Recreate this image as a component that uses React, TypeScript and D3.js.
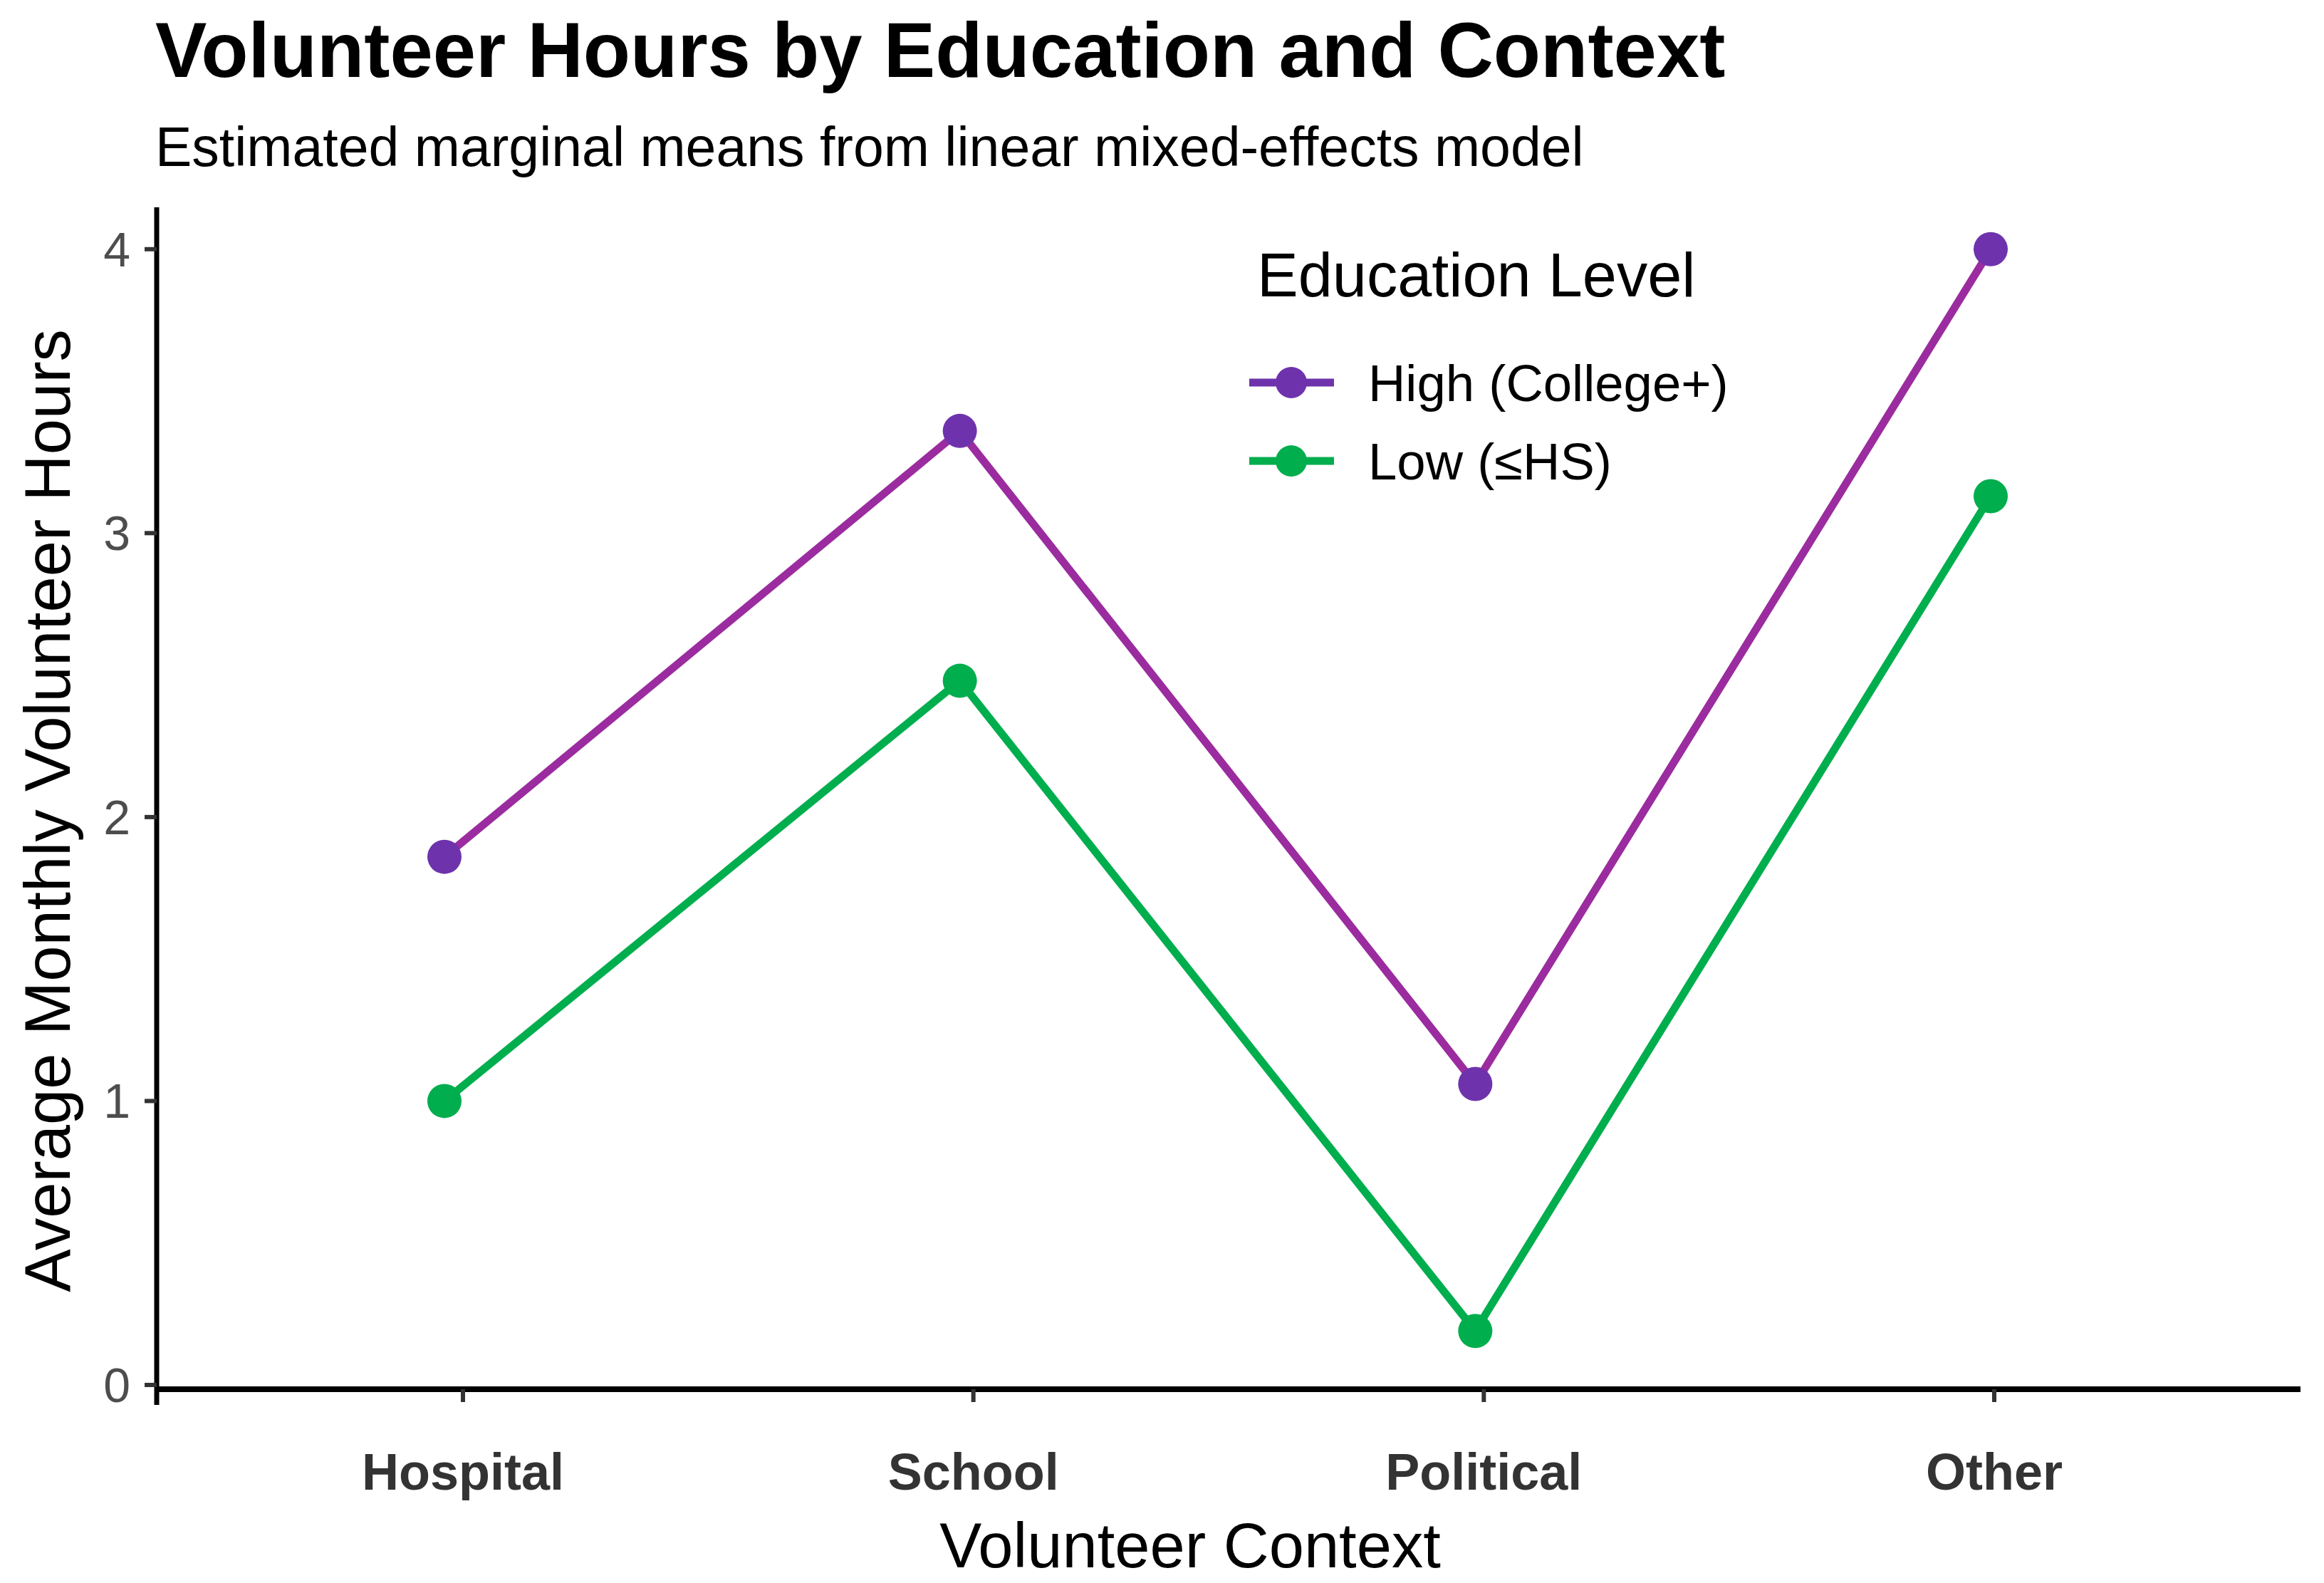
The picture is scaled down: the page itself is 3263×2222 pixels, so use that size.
import { line, scaleLinear, scalePoint } from "d3";
import type { FC } from "react";

// Data
const contexts = ["Hospital", "School", "Political", "Other"];
const highValues = [1.86, 3.36, 1.06, 4.0];
const lowValues = [1.0, 2.48, 0.19, 3.13];
const yTicks = [0, 1, 2, 3, 4];
const seriesNames = ["High (College+)", "Low (\u2264HS)"];

const W = 3263;
const H = 2222;
const font = "'Liberation Sans', Arial, Helvetica, sans-serif";

const App: FC = () => {
  const panel = { left: 220, right: 3230, top: 290, bottom: 1944 };
  const axisY = 1950;

  // Scales: axis ticks, and the marks (drawn a touch left of the ticks in the original)
  const xScale = scalePoint<string>()
    .domain(contexts)
    .range([panel.left, panel.right])
    .padding(0.6);
  const xMark = scalePoint<string>().domain(contexts).range([624, 2795]);
  const yScale = scaleLinear().domain([0, 4.15]).range([panel.bottom, panel.top]);

  const series = [
    { name: seriesNames[0], values: highValues, line: "#9B2C9F", point: "#6E33AC" },
    { name: seriesNames[1], values: lowValues, line: "#00AE4E", point: "#00AE4E" },
  ];

  const path = line<number>()
    .x((_, i) => xMark(contexts[i]) ?? 0)
    .y((d) => yScale(d));

  return (
    <div style={{ position: "absolute", left: 0, top: 0 }}>
      <svg width={W} height={H} fontFamily={font} style={{ display: "block", background: "#fff" }}>
        {/* titles */}
        <text x={218} y={108} fontSize={108.5} fontWeight="bold" fill="#000">
          Volunteer Hours by Education and Context
        </text>
        <text x={218} y={233} fontSize={77} fill="#000">
          Estimated marginal means from linear mixed-effects model
        </text>

        {/* y axis */}
        <line x1={panel.left} x2={panel.left} y1={291} y2={1972} stroke="#000" strokeWidth={7} />
        {yTicks.map((t) => (
          <g key={t}>
            <line x1={203} x2={panel.left} y1={yScale(t)} y2={yScale(t)} stroke="#333" strokeWidth={6} />
            <text
              x={183}
              y={yScale(t)}
              textAnchor="end"
              dominantBaseline="central"
              fontSize={68}
              fill="#4D4D4D"
            >
              {t}
            </text>
          </g>
        ))}
        <text
          transform={`translate(98, 1138) rotate(-90)`}
          textAnchor="middle"
          fontSize={90.5}
          fill="#000"
        >
          Average Monthly Volunteer Hours
        </text>

        {/* x axis */}
        <line x1={panel.left} x2={panel.right} y1={axisY} y2={axisY} stroke="#000" strokeWidth={8} />
        {contexts.map((c) => (
          <g key={c}>
            <line x1={xScale(c)} x2={xScale(c)} y1={axisY} y2={axisY + 18} stroke="#333" strokeWidth={6} />
            <text x={xScale(c)} y={2091} textAnchor="middle" fontSize={72} fontWeight="bold" fill="#333">
              {c}
            </text>
          </g>
        ))}
        <text x={1671} y={2200} textAnchor="middle" fontSize={88.5} fill="#000">
          Volunteer Context
        </text>

        {/* series */}
        {series.map((s) => (
          <g key={s.name}>
            <path d={path(s.values) || ""} fill="none" stroke={s.line} strokeWidth={11} />
            {s.values.map((v, i) => (
              <circle key={i} cx={xMark(contexts[i])} cy={yScale(v)} r={24} fill={s.point} />
            ))}
          </g>
        ))}

        {/* legend */}
        <text x={1765} y={416} fontSize={86.5} fill="#000">
          Education Level
        </text>
        {series.map((s, i) => {
          const cy = 537 + i * 110;
          return (
            <g key={s.name}>
              <line x1={1754} x2={1873} y1={cy} y2={cy} stroke={s.point} strokeWidth={11} />
              <circle cx={1813} cy={cy} r={22} fill={s.point} />
              <text x={1921} y={cy} dominantBaseline="central" fontSize={72.5} fill="#000">
                {s.name}
              </text>
            </g>
          );
        })}
      </svg>
    </div>
  );
};

export default App;
